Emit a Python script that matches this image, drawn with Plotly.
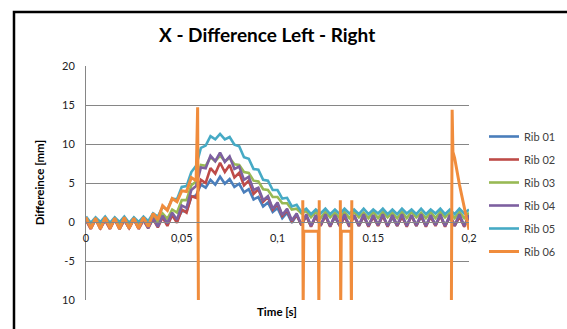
import plotly.graph_objects as go

# ---------------- data ----------------
TIME = [round(i * 0.0025, 4) for i in range(81)]  # 0 .. 0.2 s

RIB01 = [0.4, -0.5, 0.3, -0.6, 0.4, -0.5, 0.3, -0.6, 0.4, -0.6, 0.3, -0.5, 0.4, -0.5,
         0.5, -0.3, 0.6, -0.1, 0.8, 0.2, 1.4, 1.4, 3.2, 3.4, 4.8, 4.4, 5.4, 4.8, 5.8, 4.9,
         5.5, 4.5, 4.9, 3.8, 4.2, 2.9, 3.2, 2.0, 2.5, 1.3, 1.8, 0.5, 1.2, -0.1, 0.9,
         -0.4, 0.8, -0.5, 0.7, -0.4, 0.8, -0.5, 0.6, -0.5, 0.7, -0.4, 0.8, -0.5, 0.7, -0.5,
         0.7, -0.4, 0.8, -0.5, 0.6, -0.5, 0.7, -0.4, 0.8, -0.5, 0.7, -0.5, 0.7, -0.4, 0.8,
         -0.5, 0.6, -0.5, 0.7, -0.4, 0.6]

RIB02 = [0.2, -0.9, 0.3, -0.8, 0.2, -0.9, 0.3, -0.9, 0.2, -0.8, 0.3, -0.9, 0.2, -0.8,
         0.4, -0.7, 0.6, -0.5, 0.9, -0.1, 1.6, 1.2, 3.3, 3.1, 5.4, 5.0, 6.9, 6.2, 7.6, 6.4,
         7.3, 5.7, 6.3, 4.7, 5.3, 3.6, 4.2, 2.6, 3.2, 1.6, 2.3, 0.8, 1.5, 0.1, 0.9, -0.4,
         0.8, -0.6, 0.7, -0.5, 0.8, -0.6, 0.8, -0.5, 0.7, -0.6, 0.8, -0.5, 0.8, -0.6,
         0.7, -0.5, 0.8, -0.6, 0.8, -0.5, 0.7, -0.6, 0.8, -0.5, 0.8, -0.6, 0.7, -0.5,
         0.8, -0.6, 0.8, -0.5, 0.7, -0.6, 0.8]

RIB03 = [0.5, -0.5, 0.4, -0.5, 0.5, -0.4, 0.5, -0.5, 0.4, -0.5, 0.5, -0.4, 0.5, -0.4,
         0.8, 0.0, 1.1, 0.4, 1.6, 1.2, 2.8, 2.8, 4.7, 5.2, 7.3, 7.2, 8.3, 7.8, 8.5, 7.8,
         8.2, 7.4, 7.3, 6.4, 6.3, 5.3, 5.2, 4.2, 4.1, 3.2, 3.2, 2.4, 2.4, 1.6, 1.7, 1.1, 1.4,
         0.6, 1.3, 0.5, 1.3, 0.6, 1.2, 0.5, 1.3, 0.5, 1.3, 0.6, 1.2, 0.5, 1.3, 0.5, 1.3,
         0.6, 1.2, 0.5, 1.3, 0.5, 1.3, 0.6, 1.2, 0.5, 1.3, 0.5, 1.3, 0.6, 1.2, 0.5, 1.3,
         0.5, 1.2]

RIB04 = [0.3, -0.8, 0.4, -0.9, 0.3, -0.8, 0.4, -0.9, 0.3, -0.8, 0.4, -0.8, 0.3, -0.8,
         0.5, -0.6, 0.8, -0.2, 1.2, 0.3, 2.1, 1.8, 4.1, 4.6, 7.0, 6.9, 8.5, 7.8, 8.9, 7.7,
         8.4, 6.8, 7.1, 5.4, 5.8, 4.1, 4.4, 2.8, 3.3, 1.7, 2.5, 0.9, 1.7, 0.2, 1.1,
         -0.4, 1.0, -0.5, 0.9, -0.4, 1.0, -0.5, 0.9, -0.4, 1.0, -0.5, 0.9, -0.4, 1.0, -0.5,
         0.9, -0.4, 1.0, -0.5, 0.9, -0.4, 1.0, -0.5, 0.9, -0.4, 1.0, -0.5, 0.9, -0.4, 1.0,
         -0.5, 0.9, -0.4, 1.0, -0.5, 0.9]

RIB05 = [0.7, -0.1, 0.6, 0.0, 0.7, -0.1, 0.6, 0.0, 0.7, -0.1, 0.6, 0.0, 0.7, 0.1,
         1.1, 0.7, 1.9, 1.6, 3.0, 2.9, 4.5, 4.6, 6.4, 7.2, 9.5, 9.8, 11.0, 10.6, 11.3, 10.6,
         10.9, 9.9, 9.7, 8.3, 8.1, 6.8, 6.7, 5.4, 5.3, 4.1, 4.1, 3.0, 3.1, 2.0, 2.2, 1.3, 1.7,
         1.0, 1.6, 1.1, 1.7, 1.0, 1.6, 1.0, 1.7, 1.1, 1.6, 1.0, 1.7, 1.0, 1.6, 1.1, 1.7,
         1.0, 1.6, 1.0, 1.7, 1.1, 1.6, 1.0, 1.7, 1.0, 1.6, 1.1, 1.7, 1.0, 1.6, 1.0, 1.7,
         1.1, 1.6]

# Rib 06: regular samples up to 0.0575 s, then sparse spikes / dropouts
RIB06_T = TIME[:24] + [0.0583, 0.0587, None,
                       0.1132, 0.1134, 0.1137, 0.1213, 0.1216, 0.1218, None,
                       0.1328, 0.1330, 0.1333, 0.1383, 0.1386, 0.1388, None,
                       0.1908, 0.1912, 0.1916, 0.1925, 0.1950, 0.1975, 0.2000]
RIB06 = [0.6, -0.8, 0.5, -0.9, 0.6, -0.8, 0.5, -0.9, 0.6, -0.8, 0.5, -0.8, 0.6, -0.6,
         1.1, 0.3, 2.1, 1.5, 3.0, 2.6, 4.0, 3.9, 5.7, 5.3,
         14.7, -11.0, None,
         2.8, -11.0, -1.2, -1.2, -11.0, 2.8, None,
         2.8, -11.0, -1.2, -1.2, -11.0, 2.8, None,
         -11.0, 14.4, 9.0, 8.2, 4.8, 2.0, -1.0]

SERIES = ["Rib 01", "Rib 02", "Rib 03", "Rib 04", "Rib 05", "Rib 06"]
COLORS = ["#4A7EBB", "#BE4B48", "#98B954", "#7D60A0", "#46AAC5", "#F08C3C"]

Y_TICKS = [-10, -5, 0, 5, 10, 15, 20]
Y_TICKTEXT = ["10", "-5", "0", "5", "10", "15", "20"]
X_TICKS = [0, 0.05, 0.1, 0.15, 0.2]
X_TICKTEXT = ["0", "0,05", "0,1", "0.15", "0,2"]

# ---------------- figure ----------------
FONT = "Lato, 'Open Sans', sans-serif"
fig = go.Figure()
xs = [TIME, TIME, TIME, TIME, TIME, RIB06_T]
ys = [RIB01, RIB02, RIB03, RIB04, RIB05, RIB06]
for name, color, x, y in zip(SERIES, COLORS, xs, ys):
    fig.add_trace(go.Scatter(
        x=x, y=y, name=name, mode="lines", legendgroup=name,
        line=dict(color=color, width=3 if name == "Rib 06" else 2.6),
        connectgaps=False,
    ))

fig.update_layout(
    width=567, height=329,
    margin=dict(l=86, r=98, t=66, b=29, autoexpand=False),
    paper_bgcolor="white", plot_bgcolor="white",
    font=dict(family=FONT, size=11, color="#222222"),
    title=dict(text="<b>X - Difference Left - Right</b>", font=dict(size=19, color="#000000"),
               xref="paper", x=0.473, xanchor="center",
               yref="container", y=1 - 35 / 329, yanchor="middle"),
    showlegend=True,
    legend=dict(xref="container", x=484 / 567, xanchor="left",
                yref="container", y=1 - 122 / 329, yanchor="top",
                font=dict(size=11, color="#404040"), tracegroupgap=4,
                itemwidth=30, bgcolor="rgba(0,0,0,0)"),
    xaxis=dict(range=[0, 0.2], anchor="free", position=1 / 3, automargin=False,
               tickvals=X_TICKS, ticktext=X_TICKTEXT, showgrid=False, zeroline=False,
               showline=True, linecolor="#868686", linewidth=1, ticks="",
               ticklabelstandoff=6, tickfont=dict(size=11, color="#222222")),
    yaxis=dict(range=[-10, 20], tickvals=Y_TICKS, ticktext=Y_TICKTEXT, automargin=False,
               showgrid=True, gridcolor="#868686", gridwidth=1, zeroline=False,
               showline=True, linecolor="#868686", linewidth=1, ticks="",
               ticklabelstandoff=8, tickfont=dict(size=11, color="#222222")),
    annotations=[
        dict(text="<b>Differeince [mm]</b>", textangle=-90, xref="paper", yref="paper",
             x=-0.122, y=0.5, xanchor="center", yanchor="middle", showarrow=False,
             font=dict(size=11.5, color="#000000")),
        dict(text="<b>Time [s]</b>", xref="paper", yref="paper",
             x=0.498, y=-0.05, xanchor="center", yanchor="middle", showarrow=False,
             font=dict(size=11.5, color="#000000")),
    ],
    shapes=[dict(type="rect", xref="paper", yref="paper",
                 x0=-0.188, x1=1.35, y0=-0.3, y1=1.2308,
                 line=dict(color="#000000", width=2.5), layer="above")],
)

fig.write_html("out.html", config={"displayModeBar": False},
               post_script="document.body.style.margin='0';document.body.style.overflow='hidden';")
